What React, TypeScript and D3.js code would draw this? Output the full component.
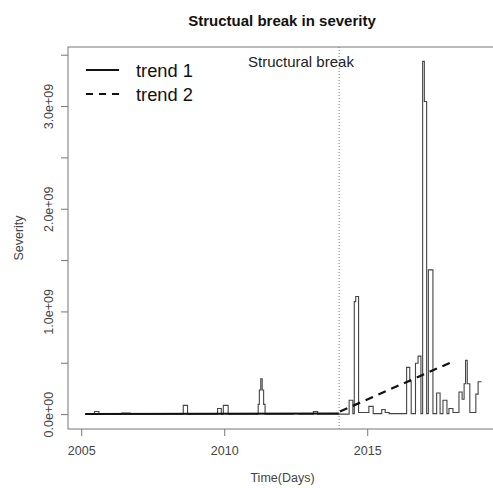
import React, { useEffect, useRef } from "react";
import * as d3 from "d3";

// severity series, step start (year) and value (1e9 units)
const stepYears = [
  2005.12, 2005.45, 2005.6, 2006.4, 2006.7, 2008.55, 2008.7, 2009.75, 2009.88,
  2009.95, 2010.12, 2011.17, 2011.21, 2011.26, 2011.31, 2011.36, 2011.41,
  2012.4, 2012.6, 2013.1, 2013.25, 2014.0, 2014.35, 2014.48, 2014.53, 2014.58,
  2014.68, 2015.04, 2015.19, 2015.49, 2015.61, 2015.75, 2016.36, 2016.47,
  2016.52, 2016.67, 2016.76, 2016.86, 2016.92, 2016.98, 2017.06, 2017.12,
  2017.28, 2017.41, 2017.53, 2017.63, 2017.77, 2017.84, 2017.98, 2018.19,
  2018.3, 2018.37, 2018.42, 2018.48, 2018.57, 2018.78, 2018.86, 2018.98,
];
const stepValues = [
  0.003, 0.03, 0.003, 0.015, 0.003, 0.09, 0.003, 0.06, 0.003, 0.09, 0.003,
  0.1, 0.24, 0.35, 0.24, 0.1, 0.003, 0.01, 0.003, 0.03, 0.003, 0.005, 0.14,
  0.01, 1.1, 1.15, 0.02, 0.08, 0.01, 0.05, 0.02, 0.01, 0.46, 0.32, 0.01, 0.5,
  0.57, 0.01, 3.44, 3.05, 0.01, 1.41, 0.01, 0.21, 0.01, 0.14, 0.01, 0.06, 0.02,
  0.22, 0.15, 0.3, 0.53, 0.3, 0.02, 0.2, 0.32, 0.32,
];

const trend1Years = [2005.12, 2014.0];
const trend1Values = [0.005, 0.012];
const trend2Years = [2014.03, 2018.0];
const trend2Values = [0.03, 0.52];

const breakYear = 2014.0;
const xTicks = [2005, 2010, 2015];
const yTicks = [0, 0.5, 1, 1.5, 2, 2.5, 3, 3.5];
const yLabelTicks = [0, 1, 2, 3];
const legendLabels = ["trend 1", "trend 2"];

const App = () => {
  const svgRef = useRef(null);

  useEffect(() => {
    const width = 493;
    const height = 488;
    const left = 68;
    const right = 497;
    const top = 47;
    const bottom = 429;
    const font = "'Liberation Sans', Arial, sans-serif";

    const x = d3.scaleLinear().domain([2004.52, 2019.52]).range([left, right]);
    const y = d3.scaleLinear().domain([-0.14, 3.58]).range([bottom, top]);

    const svg = d3
      .select(svgRef.current)
      .attr("width", width)
      .attr("height", height)
      .style("font-family", font);
    svg.selectAll("*").remove();

    svg
      .append("rect")
      .attr("width", width)
      .attr("height", height)
      .attr("fill", "white");

    svg
      .append("clipPath")
      .attr("id", "plotclip")
      .append("rect")
      .attr("x", left)
      .attr("y", top)
      .attr("width", right - left)
      .attr("height", bottom - top);

    const plot = svg.append("g").attr("clip-path", "url(#plotclip)");

    const series = stepYears.map((yr, i) => [yr, stepValues[i]]);
    const line = d3
      .line()
      .x((d) => x(d[0]))
      .y((d) => y(d[1]));

    plot
      .append("path")
      .attr("d", line.curve(d3.curveStepAfter)(series))
      .attr("fill", "none")
      .attr("stroke", "#444")
      .attr("stroke-width", 1.1);

    const plain = d3
      .line()
      .x((d) => x(d[0]))
      .y((d) => y(d[1]));

    plot
      .append("path")
      .attr("d", plain(trend1Years.map((yr, i) => [yr, trend1Values[i]])))
      .attr("fill", "none")
      .attr("stroke", "#111")
      .attr("stroke-width", 2);

    plot
      .append("path")
      .attr("d", plain(trend2Years.map((yr, i) => [yr, trend2Values[i]])))
      .attr("fill", "none")
      .attr("stroke", "#111")
      .attr("stroke-width", 2.2)
      .attr("stroke-dasharray", "8,6");

    // structural break
    plot
      .append("line")
      .attr("x1", x(breakYear))
      .attr("x2", x(breakYear))
      .attr("y1", top)
      .attr("y2", bottom)
      .attr("stroke", "#777")
      .attr("stroke-width", 1)
      .attr("stroke-dasharray", "1,2");

    svg
      .append("text")
      .attr("x", 248)
      .attr("y", 67)
      .attr("font-size", 15)
      .attr("fill", "#222")
      .text("Structural break");

    // box
    svg
      .append("rect")
      .attr("x", left)
      .attr("y", top)
      .attr("width", right - left)
      .attr("height", bottom - top)
      .attr("fill", "none")
      .attr("stroke", "#777")
      .attr("stroke-width", 1);

    // x axis
    const xa = svg.append("g");
    xa.selectAll("line")
      .data(xTicks)
      .join("line")
      .attr("x1", (d) => x(d))
      .attr("x2", (d) => x(d))
      .attr("y1", bottom)
      .attr("y2", bottom + 7)
      .attr("stroke", "#777");
    xa.selectAll("text")
      .data(xTicks)
      .join("text")
      .attr("x", (d) => x(d))
      .attr("y", 455)
      .attr("text-anchor", "middle")
      .attr("font-size", 12.5)
      .attr("fill", "#444")
      .text((d) => d);

    // y axis
    const ya = svg.append("g");
    ya.selectAll("line")
      .data(yTicks)
      .join("line")
      .attr("x1", left - 7)
      .attr("x2", left)
      .attr("y1", (d) => y(d))
      .attr("y2", (d) => y(d))
      .attr("stroke", "#777");
    const fmt = (v) => {
      const s = d3.format(".1e")(v * 1e9);
      return s.replace(/e([+-])(\d)$/, "e$10$2");
    };
    ya.selectAll("text")
      .data(yLabelTicks)
      .join("text")
      .attr("transform", (d) => `translate(52.5,${y(d)}) rotate(-90)`)
      .attr("text-anchor", "middle")
      .attr("font-size", 12.5)
      .attr("fill", "#444")
      .text((d) => fmt(d));

    svg
      .append("text")
      .attr("x", (left + right) / 2)
      .attr("y", 482)
      .attr("text-anchor", "middle")
      .attr("font-size", 12.5)
      .attr("fill", "#444")
      .text("Time(Days)");

    svg
      .append("text")
      .attr("transform", `translate(22.5,${(top + bottom) / 2}) rotate(-90)`)
      .attr("text-anchor", "middle")
      .attr("font-size", 12.5)
      .attr("fill", "#444")
      .text("Severity");

    svg
      .append("text")
      .attr("x", 282)
      .attr("y", 25.5)
      .attr("text-anchor", "middle")
      .attr("font-size", 15)
      .attr("font-weight", "bold")
      .attr("fill", "#111")
      .text("Structual break in severity");

    // legend
    const lg = svg.append("g");
    legendLabels.forEach((lab, i) => {
      const ly = 70 + i * 24;
      lg.append("line")
        .attr("x1", 86)
        .attr("x2", 119)
        .attr("y1", ly)
        .attr("y2", ly)
        .attr("stroke", "#111")
        .attr("stroke-width", 2)
        .attr("stroke-dasharray", i === 1 ? "7,6" : null);
      lg.append("text")
        .attr("x", 136)
        .attr("y", ly + 7)
        .attr("font-size", 18.3)
        .attr("fill", "#111")
        .text(lab);
    });
  }, []);

  return (
    <svg
      ref={svgRef}
      style={{ position: "absolute", left: 0, top: 0 }}
    ></svg>
  );
};

export default App;
